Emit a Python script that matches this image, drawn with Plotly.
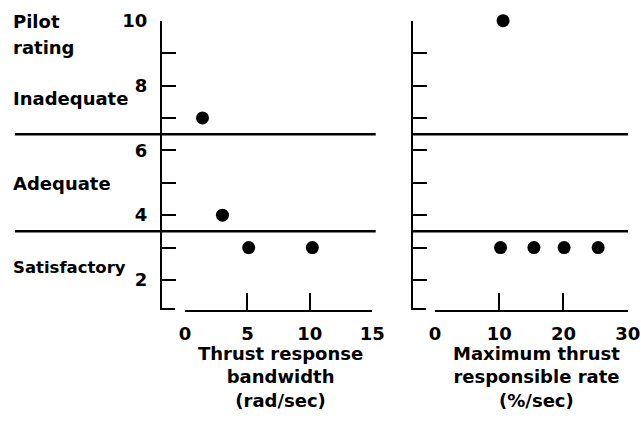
import plotly.graph_objects as go

# Pilot rating against thrust response bandwidth (rad/sec)
bandwidth = [1.4, 3.0, 5.1, 10.2]
rating_bw = [7, 4, 3, 3]

# Pilot rating against maximum thrust responsible rate (%/sec)
max_rate = [10.6, 10.2, 15.4, 20.1, 25.4]
rating_rate = [10, 3, 3, 3, 3]

# Rating boundaries and region names
boundaries = [6.5, 3.5]
regions = ["Inadequate", "Adequate", "Satisfactory"]
region_y = [98, 183, 267]
region_size = [18, 18, 16.5]

y_ticks = [2, 3, 4, 5, 6, 7, 8, 9, 10]
y_ticktext = ["2", "", "4", "", "6", "", "8", "", "10"]
x1_ticks = [0, 5, 10, 15]
x2_ticks = [0, 10, 20, 30]

W, H = 641, 423
FONT = dict(family="DejaVu Sans", size=18, color="black", weight="bold")
Y_MIN, Y_MAX = 1.074, 10.0


def px(x):
    return x / W


def py(y):
    return 1 - y / H


fig = go.Figure()
marker = dict(color="black", size=13)
fig.add_trace(go.Scatter(x=bandwidth, y=rating_bw, mode="markers", marker=marker,
                         xaxis="x", yaxis="y", cliponaxis=False, showlegend=False))
fig.add_trace(go.Scatter(x=max_rate, y=rating_rate, mode="markers", marker=marker,
                         xaxis="x2", yaxis="y2", cliponaxis=False, showlegend=False))

Y_BOTTOM_PX = 310
ydom = [py(Y_BOTTOM_PX), py(20.7)]
common_x = dict(showgrid=False, zeroline=False, showline=True, linecolor="black",
                linewidth=2, ticks="inside", ticklen=17, tickwidth=2, tickcolor="black",
                tickfont=FONT, ticklabelstandoff=6, automargin=False)
common_y = dict(showgrid=False, zeroline=False, showline=True, linecolor="black",
                linewidth=2, ticks="inside", ticklen=14, tickwidth=2, tickcolor="black",
                range=[Y_MIN, Y_MAX], domain=ydom, anchor="free", side="left",
                tickmode="array", tickvals=y_ticks, automargin=False)

fig.update_layout(
    width=W, height=H, margin=dict(l=0, r=0, t=0, b=0, autoexpand=False),
    paper_bgcolor="white", plot_bgcolor="white",
    xaxis=dict(common_x, domain=[px(185), px(372.3)], range=[0, 15], anchor="y",
               tickmode="array", tickvals=x1_ticks),
    yaxis=dict(common_y, position=px(161), ticktext=y_ticktext,
               tickfont=FONT, ticklabelstandoff=9),
    xaxis2=dict(common_x, domain=[px(435), px(627.7)], range=[0, 30], anchor="y2",
                tickmode="array", tickvals=x2_ticks),
    yaxis2=dict(common_y, position=px(412), showticklabels=False),
)

# Short closing tick at the foot of each rating axis
for ax_x in [161, 412]:
    fig.add_shape(type="line", xref="paper", yref="paper", x0=px(ax_x - 1),
                  x1=px(ax_x + 14), y0=py(Y_BOTTOM_PX - 1), y1=py(Y_BOTTOM_PX - 1),
                  line=dict(color="black", width=2))

# Rating boundary lines across each panel
for b in boundaries:
    fig.add_shape(type="line", xref="paper", yref="y", x0=px(15), x1=px(375.7),
                  y0=b, y1=b, line=dict(color="black", width=2.5))
    fig.add_shape(type="line", xref="paper", yref="y2", x0=px(412), x1=px(628),
                  y0=b, y1=b, line=dict(color="black", width=2.5))

# Left-hand labels
labels = [("Pilot", 22, 18), ("rating", 47, 18)] + list(zip(regions, region_y, region_size))
for txt, yy, size in labels:
    fig.add_annotation(text=txt, xref="paper", yref="paper", x=px(11), y=py(yy),
                       xanchor="left", yanchor="middle", showarrow=False,
                       font=dict(FONT, size=size))

# Axis titles
fig.add_annotation(text="Thrust response<br>bandwidth<br>(rad/sec)", xref="paper",
                   yref="paper", x=px(280), y=py(377), xanchor="center",
                   yanchor="middle", showarrow=False, font=FONT)
fig.add_annotation(text="Maximum thrust<br>responsible rate<br>(%/sec)", xref="paper",
                   yref="paper", x=px(536), y=py(377), xanchor="center",
                   yanchor="middle", showarrow=False, font=FONT)

fig.write_html("out.html")
